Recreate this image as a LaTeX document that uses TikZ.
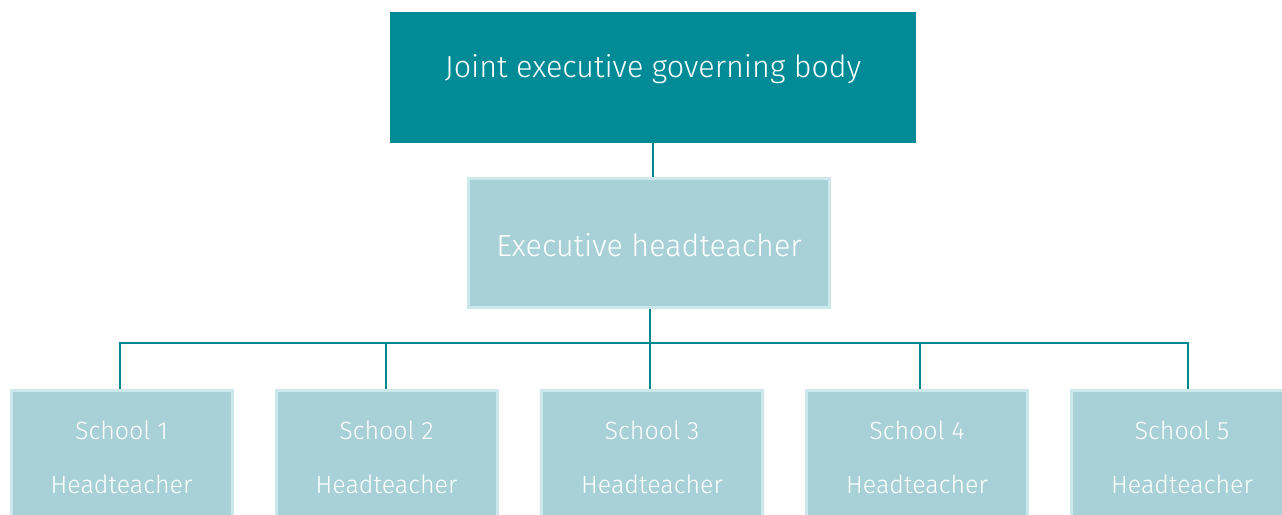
\documentclass[tikz,border=0pt]{standalone}
\usepackage{fontspec}
\setmainfont{Fira Sans}[UprightFont=* Light]
\definecolor{teal1}{HTML}{008B96}
\definecolor{lightfill}{HTML}{A7D1D7}
\definecolor{lightedge}{HTML}{CDE8EA}
\definecolor{linecol}{HTML}{00898F}
\begin{document}
\begin{tikzpicture}[x=1pt,y=-1pt,
  topbox/.style={fill=teal1,draw=none,minimum width=526pt,minimum height=131pt,inner sep=0pt,text=white},
  midbox/.style={fill=lightfill,draw=lightedge,line width=3pt,minimum width=361pt,minimum height=129pt,inner sep=0pt},
  schoolbox/.style={fill=lightfill,draw=lightedge,line width=3pt,minimum width=221pt,minimum height=160pt,inner sep=0pt},
  bigtext/.style={text=white,inner sep=0pt,font=\fontsize{30.5}{36}\selectfont},
  smalltext/.style={text=white,inner sep=0pt,font=\fontsize{25}{30}\selectfont},
  conn/.style={draw=linecol,line width=2.2pt}]
\useasboundingbox (0,0) rectangle (1282,514);
\clip (0,0) rectangle (1282,514);
\node[topbox] (top) at (653,77.5) {};
\node[bigtext] (toptext) at (653,69) {Joint executive governing body};
\node[midbox] (mid) at (649,243) {};
\node[bigtext] (midtext) at (649,245) {Executive headteacher};
\foreach \i/\cx in {1/121.5,2/386.5,3/652,4/917,5/1182}{
  \node[schoolbox] (s\i) at (\cx,470) {};
  \node[smalltext] (t\i) at (\cx,430) {School \i};
  \node[smalltext] (h\i) at (\cx,484) {Headteacher};
}
\coordinate (bar) at (650,343);
\coordinate (b1) at (120,343);
\coordinate (b2) at (386,343);
\coordinate (b3) at (650,343);
\coordinate (b4) at (920,343);
\coordinate (b5) at (1188,343);
\draw[conn] (top.south -| 653,0) -- (mid.north -| 653,0);
\draw[conn] (mid.south -| bar) -- (bar);
\draw[conn] (b1 |- s1.north) -- (b1) -- (b5) -- (b5 |- s5.north);
\draw[conn] (b2) -- (b2 |- s2.north);
\draw[conn] (b3) -- (b3 |- s3.north);
\draw[conn] (b4) -- (b4 |- s4.north);
\end{tikzpicture}
\end{document}
